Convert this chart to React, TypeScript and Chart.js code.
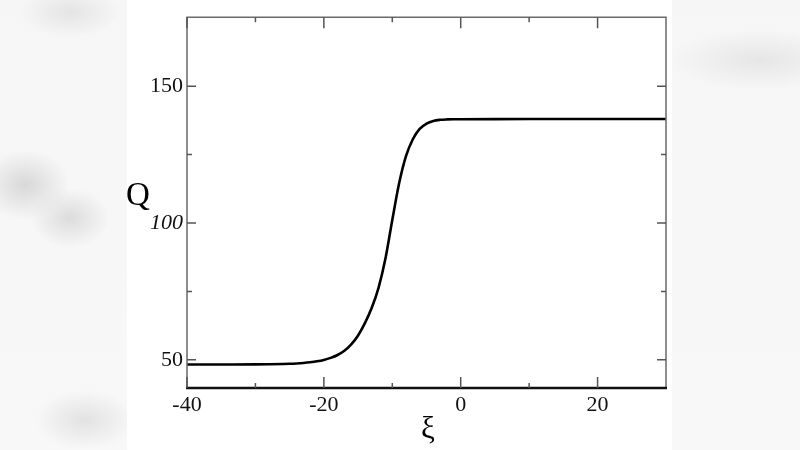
import React, { useEffect, useRef } from "react";
import { Chart, registerables } from "chart.js";

Chart.register(...registerables);

const xiValues = [-40, -35, -30, -28, -26, -25, -24, -23, -22, -21, -20, -19, -18, -17, -16, -15, -14, -13, -12, -11, -10, -9, -8, -7, -6, -5, -4, -3, -2, -1, 0, 10, 20, 30];
const qValues = [48.3, 48.31, 48.34, 48.39, 48.48, 48.56, 48.68, 48.85, 49.1, 49.45, 49.95, 50.7, 51.75, 53.3, 55.6, 58.9, 63.4, 69.0, 76.4, 87.0, 101.1, 114.5, 124.4, 130.6, 134.4, 136.3, 137.3, 137.7, 137.85, 137.9, 137.9, 138.0, 138.0, 138.0];

const xMin = -40;
const xMax = 30;
const yMin = 39.7;
const yMax = 175.2;
const xMajorTicks = [-40, -20, 0, 20];
const xMinorTicks = [-30, -10, 10];
const yMajorTicks = [50, 100, 150];
const yMinorTicks = [75, 125];
const italicTick = 100;
const xTitle = "ξ";
const yTitle = "Q";

const framePlugin = {
  id: "frame",
  afterDraw(chart: any) {
    const { ctx, chartArea } = chart;
    const { left, right, top, bottom } = chartArea;
    const xs = chart.scales.x;
    const ys = chart.scales.y;
    ctx.save();
    ctx.strokeStyle = "#6a6a6a";
    ctx.lineWidth = 1.5;
    ctx.beginPath();
    ctx.moveTo(left, bottom);
    ctx.lineTo(left, top);
    ctx.lineTo(right, top);
    ctx.lineTo(right, bottom);
    ctx.stroke();
    ctx.strokeStyle = "#111";
    ctx.lineWidth = 2.5;
    ctx.beginPath();
    ctx.moveTo(left - 1, bottom);
    ctx.lineTo(right + 1, bottom);
    ctx.stroke();
    ctx.strokeStyle = "#555";
    ctx.lineWidth = 1.5;
    const drawX = (v: number, len: number) => {
      const p = xs.getPixelForValue(v);
      ctx.beginPath();
      ctx.moveTo(p, bottom);
      ctx.lineTo(p, bottom - len);
      ctx.moveTo(p, top);
      ctx.lineTo(p, top + len);
      ctx.stroke();
    };
    const drawY = (v: number, len: number) => {
      const p = ys.getPixelForValue(v);
      ctx.beginPath();
      ctx.moveTo(left, p);
      ctx.lineTo(left + len, p);
      ctx.moveTo(right, p);
      ctx.lineTo(right - len, p);
      ctx.stroke();
    };
    xMajorTicks.forEach((v) => drawX(v, 11));
    xMinorTicks.forEach((v) => drawX(v, 5));
    yMajorTicks.forEach((v) => drawY(v, 9));
    yMinorTicks.forEach((v) => drawY(v, 5));
    ctx.fillStyle = "#000";
    ctx.textAlign = "center";
    ctx.textBaseline = "middle";
    ctx.font = "33px 'Liberation Serif', serif";
    ctx.fillText(yTitle, 138, 196);
    ctx.font = "31px 'Liberation Serif', serif";
    ctx.fillText(xTitle, 428, 430);
    ctx.restore();
  },
};

export default function App() {
  const ref = useRef<HTMLCanvasElement | null>(null);
  useEffect(() => {
    if (!ref.current) return;
    const points = xiValues.map((x, i) => ({ x, y: qValues[i] }));
    const tickFont = (c: any) => ({
      family: "'Liberation Serif', serif",
      size: 22,
      style: c && c.tick && c.tick.value === italicTick ? "italic" : "normal",
    });
    const chart = new Chart(ref.current, {
      type: "scatter",
      data: {
        datasets: [
          {
            data: points,
            showLine: true,
            borderColor: "#000",
            borderWidth: 2.6,
            pointRadius: 0,
            cubicInterpolationMode: "monotone",
          } as any,
        ],
      },
      options: {
        responsive: false,
        animation: false,
        layout: { padding: { left: 0, right: 134, top: 7, bottom: 0 } },
        plugins: { legend: { display: false }, tooltip: { enabled: false } },
        scales: {
          x: {
            type: "linear",
            min: xMin,
            max: xMax,
            grid: { display: false, drawTicks: false },
            border: { display: false },
            afterFit: (s: any) => {
              s.height = 62;
            },
            ticks: {
              stepSize: 10,
              autoSkip: false,
              maxRotation: 0,
              padding: 4,
              color: "#111",
              font: tickFont as any,
              callback: (v: any) => (xMajorTicks.includes(Number(v)) ? String(v) : ""),
            },
          },
          y: {
            type: "linear",
            min: yMin,
            max: yMax,
            grid: { display: false, drawTicks: false },
            border: { display: false },
            afterFit: (s: any) => {
              s.width = 187;
            },
            ticks: {
              stepSize: 25,
              autoSkip: false,
              padding: 4,
              color: "#111",
              font: tickFont as any,
              callback: (v: any) => (yMajorTicks.includes(Number(v)) ? String(v) : ""),
            },
          },
        },
      },
      plugins: [framePlugin],
    });
    return () => chart.destroy();
  }, []);

  return (
    <div
      style={{
        position: "fixed",
        left: 0,
        top: 0,
        width: 800,
        height: 450,
        overflow: "hidden",
        background:
          "radial-gradient(ellipse 45px 35px at 25px 185px, #d8d8d8, rgba(240,240,240,0)), radial-gradient(ellipse 40px 30px at 70px 218px, #dcdcdc, rgba(240,240,240,0)), radial-gradient(ellipse 50px 25px at 70px 12px, #e4e4e4, rgba(240,240,240,0)), radial-gradient(ellipse 50px 30px at 85px 420px, #e2e2e2, rgba(240,240,240,0)), radial-gradient(ellipse 90px 30px at 760px 60px, #e6e6e6, rgba(245,245,245,0)), linear-gradient(#f6f6f6, #f8f8f8)",
      }}
    >
      <div style={{ position: "absolute", left: 127, top: 0, width: 545, height: 450, background: "#fff" }} />
      <canvas ref={ref} width={800} height={450} style={{ position: "absolute", left: 0, top: 0 }} />
    </div>
  );
}
